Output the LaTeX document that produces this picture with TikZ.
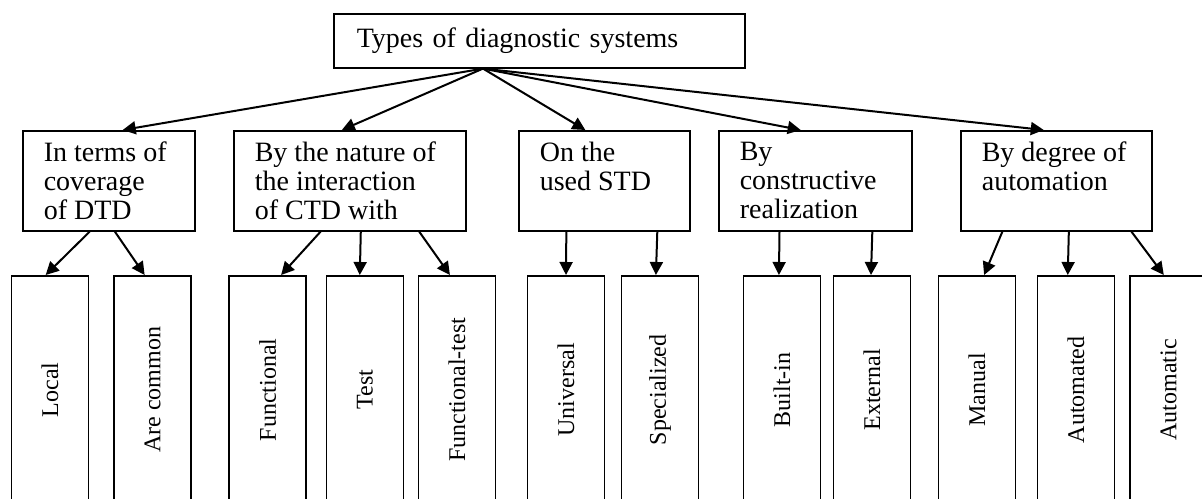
\documentclass[tikz,border=0pt]{standalone}
\usepackage{fontspec}
\setmainfont{Liberation Serif}
\usepackage{graphicx}
\usetikzlibrary{positioning,calc,arrows.meta}

\begin{document}
\begin{tikzpicture}[%
    x=0.5pt,
    y=-0.5pt,
    >={Triangle[length=6.5pt,width=6.5pt]},
    line width=0.8pt,
    rootbox/.style={%
      draw,
      anchor=north west,
      text width=182.5pt,
      inner xsep=11.5pt,
      minimum height=27pt,
      align=left,
      font=\fontsize{14}{14.5}\selectfont
    },
    catbox/.style={%
      draw,
      anchor=north west,
      minimum height=50pt
    },
    cattext/.style={%
      anchor=north west,
      align=left,
      inner xsep=10.5pt,
      inner ysep=5.5pt,
      font=\fontsize{14}{14.5}\selectfont
    },
    leafbox/.style={%
      draw,
      anchor=north,
      minimum width=38.5pt,
      minimum height=114pt,
      font=\fontsize{12}{14}\selectfont
    },
    link/.style={->, line width=1pt}
  ]
    \useasboundingbox (0,0) rectangle (1202,498);

    \node[rootbox] (types) at (333,13) {Types of diagnostic systems};
    \coordinate (hub) at ($(types.south west)+(150,0)$);

    \node[catbox, minimum width=86pt] (coverage) at (22,130) {};
    \node[catbox, minimum width=116pt] (interaction) at (233,130) {};
    \node[catbox, minimum width=85.5pt] (equipment) at (518,130) {};
    \node[catbox, minimum width=96.5pt] (design) at (718,130) {};
    \node[catbox, minimum width=95.5pt] (automation) at (960,130) {};

    \node[cattext] (coveragetext) at (coverage.north west) {In terms of\\coverage\\of DTD};
    \node[cattext] (interactiontext) at (interaction.north west) {By the nature of\\the interaction\\of CTD with};
    \node[cattext] (equipmenttext) at (equipment.north west) {On the\\used STD};
    \node[cattext] (designtext) at (design.north west) {By\\constructive\\realization};
    \node[cattext] (automationtext) at (automation.north west) {By degree of\\automation};

    \node[leafbox] (local) at (50,275) {\rotatebox{90}{Local}};
    \node[leafbox] (common) at (152.5,275) {\rotatebox{90}{Are common}};
    \node[leafbox] (functional) at (267.75,275) {\rotatebox{90}{Functional}};
    \node[leafbox] (test) at (365,275) {\rotatebox{90}{Test}};
    \node[leafbox] (functest) at (457,275) {\rotatebox{90}{Functional-test}};
    \node[leafbox] (universal) at (566,275) {\rotatebox{90}{Universal}};
    \node[leafbox] (specialized) at (660,275) {\rotatebox{90}{Specialized}};
    \node[leafbox] (builtin) at (782,275) {\rotatebox{90}{Built-in}};
    \node[leafbox] (external) at (872,275) {\rotatebox{90}{External}};
    \node[leafbox] (manual) at (977,275) {\rotatebox{90}{Manual}};
    \node[leafbox] (automated) at (1076,275) {\rotatebox{90}{Automated}};
    \node[leafbox] (automatic) at (1168.5,275) {\rotatebox{90}{Automatic}};

    \path[link] (hub) edge ($(coverage.north west)!.58!(coverage.north east)$)
          (hub) edge ($(interaction.north west)!.466!(interaction.north east)$)
          (hub) edge ($(equipment.north west)!.39!(equipment.north east)$)
          (hub) edge ($(design.north west)!.425!(design.north east)$)
          (hub) edge ($(automation.north west)!.435!(automation.north east)$);

    \path[link] ($(coverage.south west)!.39!(coverage.south east)$) edge ($(local.north west)!.445!(local.north east)$)
          ($(coverage.south west)!.535!(coverage.south east)$) edge ($(common.north west)!.40!(common.north east)$)
          ($(interaction.south west)!.375!(interaction.south east)$) edge ($(functional.north west)!.67!(functional.north east)$)
          ($(interaction.south west)!.547!(interaction.south east)$) edge ($(test.north west)!.434!(test.north east)$)
          ($(interaction.south west)!.797!(interaction.south east)$) edge ($(functest.north west)!.41!(functest.north east)$)
          ($(equipment.south west)!.28!(equipment.south east)$) edge ($(universal.north west)!.5!(universal.north east)$)
          ($(equipment.south west)!.807!(equipment.south east)$) edge ($(specialized.north west)!.448!(specialized.north east)$)
          ($(design.south west)!.316!(design.south east)$) edge ($(builtin.north west)!.461!(builtin.north east)$)
          ($(design.south west)!.793!(design.south east)$) edge ($(external.north west)!.487!(external.north east)$)
          ($(automation.south west)!.22!(automation.south east)$) edge ($(manual.north west)!.59!(manual.north east)$)
          ($(automation.south west)!.565!(automation.south east)$) edge ($(automated.north west)!.395!(automated.north east)$)
          ($(automation.south west)!.89!(automation.south east)$) edge ($(automatic.north west)!.44!(automatic.north east)$);
\end{tikzpicture}
\end{document}
